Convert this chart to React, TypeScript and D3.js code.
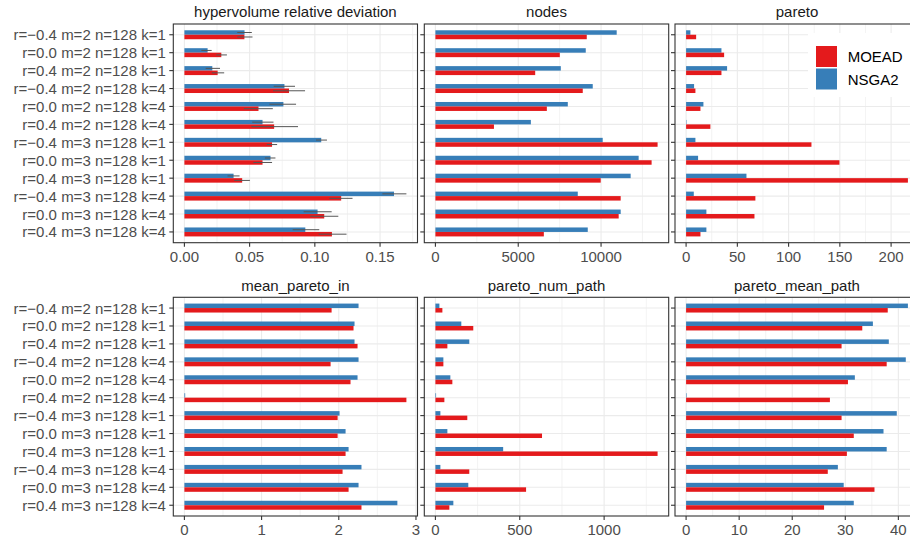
import React from "react";
import * as d3 from "d3";

const categories = [
  "r=−0.4 m=2 n=128 k=1",
  "r=0.0 m=2 n=128 k=1",
  "r=0.4 m=2 n=128 k=1",
  "r=−0.4 m=2 n=128 k=4",
  "r=0.0 m=2 n=128 k=4",
  "r=0.4 m=2 n=128 k=4",
  "r=−0.4 m=3 n=128 k=1",
  "r=0.0 m=3 n=128 k=1",
  "r=0.4 m=3 n=128 k=1",
  "r=−0.4 m=3 n=128 k=4",
  "r=0.0 m=3 n=128 k=4",
  "r=0.4 m=3 n=128 k=4",
];

const seriesNames = ["MOEAD", "NSGA2"];
const seriesColors = ["#E41A1C", "#377EB8"];

const metricTitles = [
  "hypervolume relative deviation",
  "nodes",
  "pareto",
  "mean_pareto_in",
  "pareto_num_path",
  "pareto_mean_path",
];

// hypervolume relative deviation
const hvMOEAD = [0.046, 0.0283, 0.0255, 0.0802, 0.0568, 0.0688, 0.0672, 0.0599, 0.0443, 0.1202, 0.1072, 0.1131];
const hvNSGA2 = [0.0461, 0.0178, 0.0214, 0.0767, 0.0759, 0.0599, 0.1049, 0.066, 0.0377, 0.1607, 0.1021, 0.0927];
const hvMOEADLo = [0.0405, 0.0245, 0.021, 0.068, 0.0456, 0.0513, 0.0632, 0.0529, 0.0382, 0.1111, 0.0965, 0.1029];
const hvMOEADHi = [0.0522, 0.0326, 0.0305, 0.0925, 0.0678, 0.0871, 0.0711, 0.0672, 0.0502, 0.1289, 0.118, 0.1243];
const hvNSGA2Lo = [0.0405, 0.0130, 0.0163, 0.0685, 0.0652, 0.0520, 0.1009, 0.0617, 0.0331, 0.1518, 0.0914, 0.0830];
const hvNSGA2Hi = [0.0517, 0.0209, 0.0273, 0.0848, 0.0856, 0.0683, 0.1093, 0.0698, 0.0423, 0.1702, 0.1129, 0.1034];

// nodes
const nodesMOEAD = [9137, 7510, 6024, 8895, 6727, 3534, 13413, 13052, 9980, 11185, 11064, 6546];
const nodesNSGA2 = [10944, 9076, 7570, 9498, 7992, 5763, 10100, 12269, 11787, 8594, 11185, 9197];

// pareto
const paretoMOEAD = [9.8, 37.1, 34.5, 9.1, 14, 23.7, 122.3, 149.6, 216.4, 67.6, 66.7, 14];
const paretoNSGA2 = [4.2, 34.5, 40, 7.8, 16.9, 0.4, 9.1, 11.7, 58.9, 7.5, 19.8, 19.8];

// mean_pareto_in
const mpiMOEAD = [1.907, 2.191, 2.243, 1.894, 2.152, 2.876, 1.985, 1.985, 2.088, 2.049, 2.127, 2.294];
const mpiNSGA2 = [2.256, 2.204, 2.204, 2.256, 2.243, 0.01, 2.01, 2.088, 2.127, 2.294, 2.256, 2.759];

// pareto_num_path
const pnpMOEAD = [41.3, 224.4, 70.9, 47.2, 100.4, 53.1, 189, 631.9, 1316.9, 200.8, 537.4, 82.7];
const pnpNSGA2 = [23.6, 153.5, 200.8, 47.2, 88.6, 4, 29.5, 70.9, 401.6, 29.5, 194.9, 106.3];

// pareto_mean_path
const pmpMOEAD = [38.0, 33.2, 29.3, 37.8, 30.5, 27.1, 29.3, 31.6, 30.3, 26.7, 35.5, 26.0];
const pmpNSGA2 = [41.8, 35.2, 38.2, 41.4, 31.8, 0.1, 39.7, 37.2, 37.8, 28.6, 29.7, 31.6];

const tickSets = [
  [0, 0.05, 0.1, 0.15],
  [0, 5000, 10000],
  [0, 50, 100, 150, 200],
  [0, 1, 2, 3],
  [0, 500, 1000],
  [0, 10, 20, 30, 40],
];
const tickLabelSets = [
  ["0.00", "0.05", "0.10", "0.15"],
  ["0", "5000", "10000"],
  ["0", "50", "100", "150", "200"],
  ["0", "1", "2", "3"],
  ["0", "500", "1000"],
  ["0", "10", "20", "30", "40"],
];

const moead = [hvMOEAD, nodesMOEAD, paretoMOEAD, mpiMOEAD, pnpMOEAD, pmpMOEAD];
const nsga2 = [hvNSGA2, nodesNSGA2, paretoNSGA2, mpiNSGA2, pnpNSGA2, pmpNSGA2];

const FONT = "'Liberation Sans', Arial, Helvetica, sans-serif";
const colX = [
  [173.3, 417.5],
  [424.3, 668.7],
  [675, 919],
];
const rowY = [
  [24, 242.7],
  [297.3, 516],
];

function Panel({ idx }: { idx: number }) {
  const col = idx % 3;
  const row = Math.floor(idx / 3);
  const [x0, x1] = colX[col];
  const [y0, y1] = rowY[row];
  const m = moead[idx];
  const n = nsga2[idx];
  let maxV = Math.max(d3.max(m) as number, d3.max(n) as number);
  if (idx === 0) maxV = Math.max(d3.max(hvMOEADHi) as number, d3.max(hvNSGA2Hi) as number);
  const x = d3.scaleLinear().domain([-0.05 * maxV, 1.05 * maxV]).range([x0, x1]);
  const y = d3.scaleLinear().domain([0.4, categories.length + 0.6]).range([y0, y1]);
  const ticks = tickSets[idx];
  const step = ticks[1] - ticks[0];
  const minor: number[] = [];
  for (let v = ticks[0] - step / 2; v <= x.domain()[1]; v += step) {
    if (v >= x.domain()[0]) minor.push(v);
  }
  const clipId = `clip${idx}`;
  return (
    <g>
      <defs>
        <clipPath id={clipId}>
          <rect x={x0} y={y0} width={x1 - x0} height={y1 - y0} />
        </clipPath>
      </defs>
      <rect x={x0} y={y0} width={x1 - x0} height={y1 - y0} fill="#fff" />
      <g clipPath={`url(#${clipId})`}>
        {minor.map((v, i) => (
          <line key={"mn" + i} x1={x(v)} x2={x(v)} y1={y0} y2={y1} stroke="#EBEBEB" strokeWidth={0.6} />
        ))}
        {ticks.map((v, i) => (
          <line key={"mj" + i} x1={x(v)} x2={x(v)} y1={y0} y2={y1} stroke="#EBEBEB" strokeWidth={1.1} />
        ))}
        {categories.map((c, i) => (
          <line key={"hg" + i} x1={x0} x2={x1} y1={y(i + 1)} y2={y(i + 1)} stroke="#EBEBEB" strokeWidth={1.1} />
        ))}
        {categories.map((c, i) => (
          <g key={"b" + i}>
            <rect
              x={Math.min(x(0), x(n[i]))}
              width={Math.abs(x(n[i]) - x(0))}
              y={y(i + 1 - 0.25)}
              height={y(i + 1) - y(i + 1 - 0.25)}
              fill={seriesColors[1]}
            />
            <rect
              x={Math.min(x(0), x(m[i]))}
              width={Math.abs(x(m[i]) - x(0))}
              y={y(i + 1)}
              height={y(i + 1 + 0.25) - y(i + 1)}
              fill={seriesColors[0]}
            />
          </g>
        ))}
        {idx === 0 &&
          categories.map((c, i) => {
            const yb = y(i + 1 - 0.125);
            const yr = y(i + 1 + 0.125);
            return (
              <g key={"e" + i} stroke="#555" strokeWidth={1}>
                <line x1={x(hvNSGA2Lo[i])} x2={x(hvNSGA2Hi[i])} y1={yb} y2={yb} />
                <line x1={x(hvMOEADLo[i])} x2={x(hvMOEADHi[i])} y1={yr} y2={yr} />
              </g>
            );
          })}
      </g>
      <rect x={x0} y={y0} width={x1 - x0} height={y1 - y0} fill="none" stroke="#333" strokeWidth={1.1} />
      {/* title */}
      <text
        x={(x0 + x1) / 2}
        y={y0 - 12.3}
        textAnchor="middle"
        dominantBaseline="central"
        fontFamily={FONT}
        fontSize={15}
        fill="#1A1A1A"
      >
        {metricTitles[idx]}
      </text>
      {/* x axis */}
      {ticks.map((v, i) => (
        <g key={"xt" + i}>
          <line x1={x(v)} x2={x(v)} y1={y1} y2={y1 + 4} stroke="#333" strokeWidth={1.1} />
          <text
            x={x(v)}
            y={y1 + 13.3}
            textAnchor="middle"
            dominantBaseline="central"
            fontFamily={FONT}
            fontSize={15}
            fill="#4D4D4D"
          >
            {tickLabelSets[idx][i]}
          </text>
        </g>
      ))}
      {/* y axis ticks */}
      {categories.map((c, i) => (
        <line key={"yt" + i} x1={x0 - 4} x2={x0} y1={y(i + 1)} y2={y(i + 1)} stroke="#333" strokeWidth={1.1} />
      ))}
      {col === 0 &&
        categories.map((c, i) => (
          <text
            key={"yl" + i}
            x={x0 - 7.5}
            y={y(i + 1)}
            textAnchor="end"
            dominantBaseline="central"
            fontFamily={FONT}
            fontSize={15}
            fill="#4D4D4D"
          >
            {c}
          </text>
        ))}
    </g>
  );
}

function Legend() {
  const lx = 808;
  const ly = 33;
  return (
    <g>
      <rect x={lx} y={ly} width={110} height={64} fill="#fff" />
      {seriesNames.map((s, i) => (
        <g key={s}>
          <rect x={816} y={46 + i * 22.5} width={21} height={21} fill={seriesColors[i]} />
          <text
            x={847.7}
            y={56.5 + i * 22.5}
            dominantBaseline="central"
            fontFamily={FONT}
            fontSize={15}
            fill="#000"
          >
            {s}
          </text>
        </g>
      ))}
    </g>
  );
}

export default function App() {
  return (
    <svg
      width={910}
      height={541}
      style={{ position: "absolute", left: 0, top: 0, background: "#fff" }}
    >
      <rect x={0} y={0} width={910} height={541} fill="#fff" />
      {metricTitles.map((t, i) => (
        <Panel key={t} idx={i} />
      ))}
      <Legend />
    </svg>
  );
}
